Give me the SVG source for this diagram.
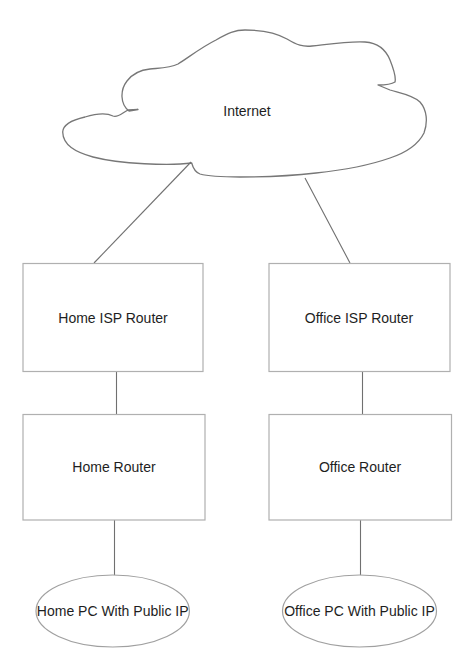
<svg xmlns="http://www.w3.org/2000/svg" width="474" height="670" viewBox="0 0 474 670">
<style>
.box{fill:#fff;stroke:#b0b0b0;stroke-width:1.2}
.ell{fill:#fff;stroke:#a0a0a0;stroke-width:1.2}
.cloud{fill:#fff;stroke:#777;stroke-width:1.3;stroke-linejoin:round}
.conn line{stroke:#707070;stroke-width:1.1}
text{font-family:"Liberation Sans",Arial,sans-serif;font-size:14px;fill:#1e1e1e;text-anchor:middle}
</style>
<rect width="474" height="670" fill="#fff"/>
<g id="internet">
<path class="cloud" d="M191.7,163 C170,166 120,164 93,157 C75,152 63,145 62.7,132 C63,124 72,120 85,117 C95,114 105,112 113,116 C118,118 122,113 128,110 L138,109.5 L129,111 C120,104 120,90 127,81 C133,73 140,70 150,69 C160,68 170,68 178,64 C188,58 200,48 216,40 C228,33 235,30 245,30 C260,30 275,32 287,39 C297,45 303,47 312,46 C330,44 350,41 365,42 C378,43 386,50 390,60 C394,70 396,78 395,82 C392,84 385,85 378,85 L390,90 C400,93 413,95 420,102 C427,110 428,122 424,133 C418,145 405,153 390,158 C370,165 345,170 316,173 C290,176 265,177 240,177 C220,177 207,176 200,174 C195,172 193,168 191.7,163 Z"/>
<text x="247" y="116">Internet</text>
</g>
<g class="conn" id="connectors">
<line x1="191" y1="162" x2="94" y2="263"/>
<line x1="305" y1="178" x2="350" y2="263"/>
<line x1="116.5" y1="372" x2="116.5" y2="414"/>
<line x1="362.5" y1="372" x2="362.5" y2="414"/>
<line x1="114.5" y1="520" x2="114.5" y2="576"/>
<line x1="360.5" y1="520" x2="360.5" y2="576"/>
</g>
<g id="home-isp-router">
<rect class="box" x="23" y="263.5" width="180" height="108"/>
<text x="113" y="323">Home ISP Router</text>
</g>
<g id="office-isp-router">
<rect class="box" x="269" y="263.5" width="181" height="108"/>
<text x="359" y="323">Office ISP Router</text>
</g>
<g id="home-router">
<rect class="box" x="23" y="414.5" width="182" height="105.5"/>
<text x="114" y="472">Home Router</text>
</g>
<g id="office-router">
<rect class="box" x="269" y="414.5" width="182.5" height="105.5"/>
<text x="360" y="472">Office Router</text>
</g>
<g id="home-pc">
<ellipse class="ell" cx="112.7" cy="611" rx="76.7" ry="36"/>
<text x="112.7" y="616">Home PC With Public IP</text>
</g>
<g id="office-pc">
<ellipse class="ell" cx="359.5" cy="611" rx="77" ry="36"/>
<text x="359.5" y="616">Office PC With Public IP</text>
</g>
</svg>
